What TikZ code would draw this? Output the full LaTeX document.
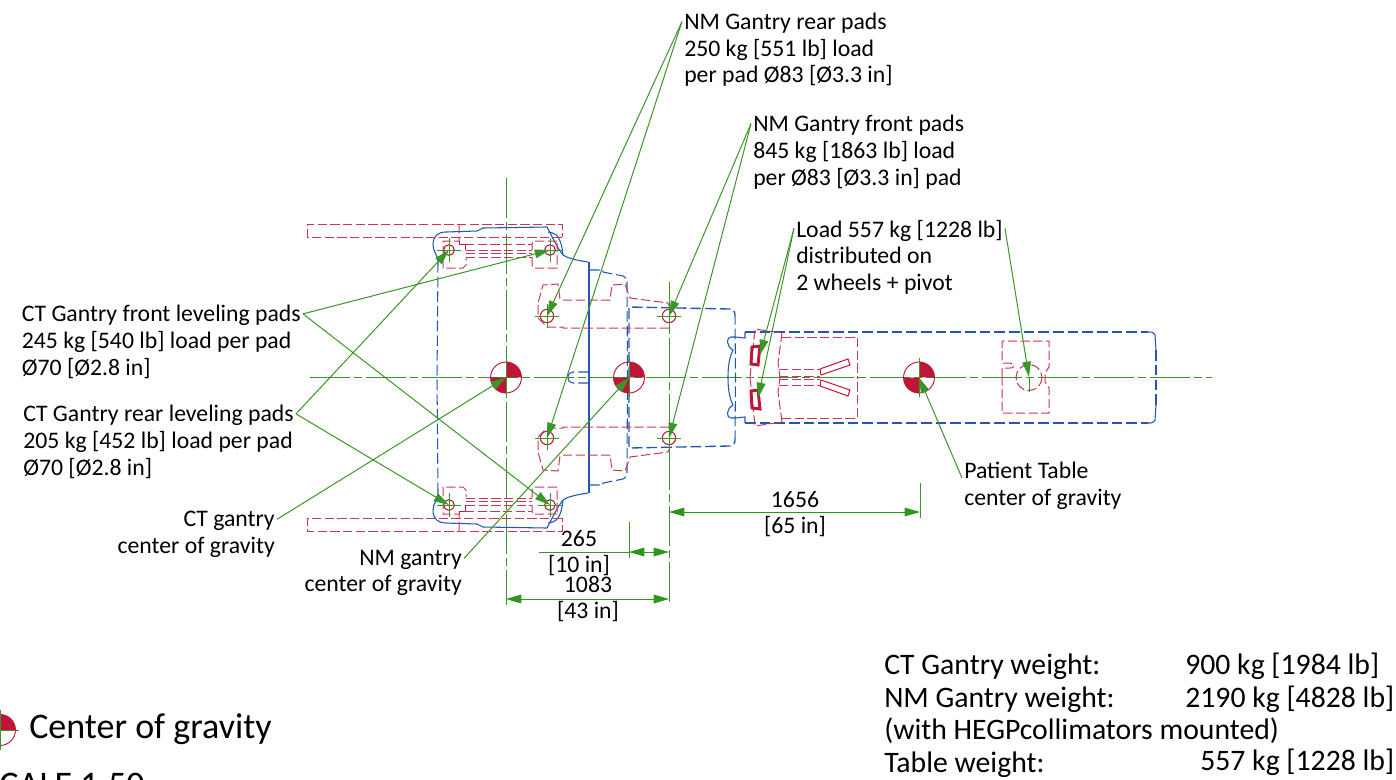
\documentclass[tikz,border=0pt]{standalone}
\usepackage{fontspec}
\setmainfont{Carlito}
\usepackage{xcolor}
\usetikzlibrary{arrows.meta,positioning,calc}
\definecolor{planblue}{RGB}{32,88,176}
\definecolor{planred}{RGB}{192,20,56}
\definecolor{plangreen}{RGB}{58,150,40}
\definecolor{tipgreen}{RGB}{44,150,30}
\newcommand{\cgmark}[3]{%
  \node[cgdisc] (#1) at (#2,#3) {};
  \fill[planred] (#1.center) -- (#1.north) arc[start angle=90,end angle=0,radius=11.6pt] -- cycle;
  \fill[planred] (#1.center) -- (#1.south) arc[start angle=270,end angle=180,radius=11.6pt] -- cycle;
  \draw[planred,line width=0.7pt] (#1.center) circle[radius=11.6pt];
  \draw[plangreen,line width=0.7pt] (#1.north) ++(0,3pt) -- ($(#1.south)+(0,-3pt)$);
}
\begin{document}
\begin{tikzpicture}[
    x=0.75pt, y=-0.75pt,
    >={Triangle[length=11.5pt,width=6.5pt]},
    bluedash/.style={planblue, line width=0.8pt, dash pattern=on 8pt off 3pt},
    bluesolid/.style={planblue, line width=0.8pt},
    reddash/.style={planred!85!white, line width=0.75pt, dash pattern=on 7pt off 2.5pt},
    redsolid/.style={planred, line width=0.75pt},
    wheel/.style={planred, line width=2.2pt},
    axisline/.style={plangreen, line width=0.75pt, dash pattern=on 30pt off 3pt on 6pt off 3pt},
    extline/.style={plangreen, line width=0.75pt},
    leader/.style={->, plangreen, line width=0.75pt},
    dimline/.style={<->, tipgreen, line width=0.75pt},
    padring/.style={circle, draw=planred, line width=0.8pt, inner sep=0pt, minimum size=#1},
    cgdisc/.style={circle, inner sep=0pt, minimum size=23.2pt},
    note/.style={font=\fontsize{17.8}{20}\selectfont, inner sep=1.5pt, align=left},
    noteright/.style={font=\fontsize{17.8}{20}\selectfont, inner sep=1.5pt, align=right},
    dimtext/.style={font=\fontsize{17.8}{19}\selectfont, inner sep=0pt, align=center},
    weightrow/.style={font=\fontsize{22.3}{24}\selectfont, inner sep=0pt, text height=15pt, text depth=5pt, anchor=west},
    legendtext/.style={font=\fontsize{27}{30}\selectfont, inner sep=0pt}
]
\useasboundingbox (0,0) rectangle (1396,779);
\clip (0,0) rectangle (1396,779);

% Center lines
\coordinate (axisw) at (310,377.5);
\coordinate (axise) at (1212,377.5);
\coordinate (ctaxist) at (506,178);
\coordinate (ctaxisb) at (506,605);
\coordinate (nmaxist) at (669,282);
\coordinate (nmaxisb) at (669,605);
\draw[axisline] (axisw) -- (axise);
\draw[axisline] (ctaxist) -- (ctaxisb);
\draw[axisline] (nmaxist) -- (nmaxisb);

% Both halves of the plan
\foreach \mirr/\flip in {0/1,755/-1}{
\begin{scope}[shift={(0,\mirr)},yscale=\flip]
  % CT gantry
  \draw[bluesolid] (438,262) .. controls (438,255) and (433,252) .. (433,245)
    .. controls (433,236) and (438,232) .. (446,232) -- (477,231) -- (483,228) -- (547,227)
    .. controls (552,236) and (556,246) .. (563,255) .. controls (567,258) and (575,260) .. (588,262);
  \draw[bluesolid] (548,232) .. controls (556,233) and (561,236) .. (563,255);
  \draw[bluedash] (438,262) -- (437,377.5);
  \draw[bluesolid,line width=1.1pt] (589,262) -- (589,377.5);
  \draw[bluedash] (589,372) -- (573,372) .. controls (570,372) and (568,374) .. (568,377.5);
  % NM gantry
  \draw[bluedash] (589,270) -- (603,270) -- (603,272) -- (623,276) .. controls (626,277) and (627,279) .. (627,282) -- (627.5,377.5);
  \draw[bluedash,line width=1pt] (629,377.5) -- (629,307) -- (730,309) .. controls (733,309) and (735,311) .. (735,314);
  \draw[bluedash] (735,314) -- (735.5,377.5);
  % Table
  \draw[bluesolid] (735,337) -- (731,337) .. controls (726,337) and (726,346) .. (733,350)
    .. controls (729,358) and (728,368) .. (728,377.5);
  \draw[bluesolid] (735,337) -- (745,338) -- (745,332);
  \draw[bluedash] (745,332) -- (1148,332);
  \draw[bluesolid] (1148,332) .. controls (1152,332) and (1154,332) .. (1155,335) -- (1156,350);
  \draw[bluedash] (1156,350) -- (1156,377.5);
  % Outriggers
  \draw[reddash] (562,237) -- (307,237) -- (307,224) -- (562,224) -- (562,237);
  % CT pads
  \draw[reddash] (459,224) -- (459,241) -- (443,241) -- (443,268) -- (463,268) -- (466,265) -- (466,258);
  \draw[redsolid] (459,241) -- (459,244) -- (465,244) -- (465,250);
  \draw[reddash] (557,241) -- (533,241) -- (532,244) -- (532,250);
  \draw[reddash] (532,257) -- (532,265) -- (534,268) -- (557,268) -- (557,241);
  \draw[reddash] (465,244) -- (532,244);
  \draw[reddash] (466,250) -- (532,250);
  \draw[reddash] (466,253.5) -- (532,253.5);
  \draw[reddash] (466,257) -- (532,257);
  % NM pads
  \draw[reddash] (669,328) -- (563,328) -- (563,327) -- (547,327) -- (538,318) -- (538,303)
    -- (543,285) -- (558,284) -- (560,299) -- (562,300) -- (610,300) -- (612,285) -- (625,284)
    -- (630,298) -- (668,303) -- (670,308);
  % Pivot and fork
  \draw[reddash] (750,377.5) -- (755,329) -- (782,333) -- (778,363) -- (780,377.5);
  \draw[reddash] (782,337) -- (857,337) -- (857,377.5);
  \draw[wheel] (752,347) -- (760,346) -- (758,365) -- (751,364) -- cycle;
  \draw[reddash] (779,369.5) -- (820,369.5);
  \draw[reddash] (779,376) -- (820,376);
  \draw[redsolid] (820,369) -- (820,375);
  \draw[redsolid] (820,369) -- (848,359) -- (850,365) -- (821,375);
\end{scope}}

% Table slot
\draw[reddash] (1002,377.5) -- (1002,368) -- (1010,368) .. controls (1015,369) and (1015,363) .. (1010,363) -- (1002,363) -- (1002,341) -- (1049,341) -- (1049,367) -- (1045,373) -- (1045,382) -- (1049,388) -- (1049,413) -- (1002,413) -- (1002,377.5);
\draw[reddash] (1029,377.5) circle[radius=13];
\coordinate (pivotb) at (1029,392);
\coordinate (pivott) at (1029,377);
\draw[extline] (pivotb) -- (pivott);

% Pads
\foreach \padname/\px/\py/\pr in {ctfl/449/250/8pt, ctfr/550/250/8pt, ctrl/449/505/8pt, ctrr/550/505/8pt,
    nmrl/547/316/10pt, nmrr/547/438/10pt, nmfl/669/316/10pt, nmfr/669/438/10pt}{
  \node[padring=\pr] (\padname) at (\px,\py) {};
  \draw[extline] ([xshift=-9pt]\padname.center) -- ([xshift=9pt]\padname.center);
  \draw[extline] ([yshift=-9pt]\padname.center) -- ([yshift=9pt]\padname.center);
}

% Centers of gravity
\cgmark{ctcg}{506}{377.5}
\cgmark{nmcg}{629}{377.5}
\cgmark{tablecg}{919}{377.5}

% Wheels and pivot
\coordinate (wheeltop) at (760,355);
\coordinate (wheelbot) at (758,398);

% Labels
\node[note, anchor=west] (nmrear) at (682,50) {NM Gantry rear pads\\250 kg [551 lb] load\\per pad Ø83 [Ø3.3 in]};
\node[note, anchor=west] (nmfront) at (751,152) {NM Gantry front pads\\845 kg [1863 lb] load\\per Ø83 [Ø3.3 in] pad};
\node[note, anchor=west] (loadnote) at (794,257) {Load 557 kg [1228 lb]\\distributed on\\2 wheels + pivot};
\node[note, anchor=east] (ctfront) at (303,342) {CT Gantry front leveling pads\\245 kg [540 lb] load per pad\\Ø70 [Ø2.8 in]};
\node[note, anchor=east] (ctrear) at (296,442) {CT Gantry rear leveling pads\\205 kg [452 lb] load per pad\\Ø70 [Ø2.8 in]};
\node[noteright, anchor=east] (ctcglabel) at (277,534) {CT gantry\\center of gravity};
\node[noteright, anchor=east] (nmcglabel) at (464,573) {NM gantry\\center of gravity};
\node[note, anchor=west] (tablecglabel) at (962,486) {Patient Table\\center of gravity};

% Leaders
\draw[leader] ([yshift=-8pt]nmrear.north west) -- (nmrl.center);
\draw[leader] ([yshift=-8pt]nmrear.north west) -- (nmrr.center);
\draw[leader] ([yshift=-8pt]nmfront.north west) -- (nmfl.center);
\draw[leader] ([yshift=-8pt]nmfront.north west) -- (nmfr.center);
\draw[leader] ([yshift=-8pt]loadnote.north west) -- (wheeltop);
\draw[leader] ([yshift=-8pt]loadnote.north west) -- (wheelbot);
\draw[leader] ([yshift=-8pt]loadnote.north east) -- (pivott);
\draw[leader] ([yshift=-8pt]ctfront.north east) -- (ctfr.center);
\draw[leader] ([yshift=-8pt]ctfront.north east) -- (ctrr.center);
\draw[leader] ([yshift=-8pt]ctrear.north east) -- (ctfl.center);
\draw[leader] ([yshift=-8pt]ctrear.north east) -- (ctrl.center);
\draw[leader] ([yshift=-8pt]ctcglabel.north east) -- (ctcg.center);
\draw[leader] ([yshift=-8pt]nmcglabel.north east) -- (nmcg.center);
\draw[leader] ([yshift=6pt]tablecglabel.west) -- (tablecg.center);

% Dimensions
\coordinate (dimtablel) at (669,512);
\coordinate (dimtabler) at (920,512);
\coordinate (exttablet) at (920,483);
\coordinate (exttableb) at (920,518);
\draw[extline] (exttablet) -- (exttableb);
\draw[dimline] (dimtablel) -- (dimtabler);
\node[dimtext] (dimtabletext) at (795,514) {1656\\[0pt][65 in]};

\coordinate (extnmt) at (629,522);
\coordinate (extnmb) at (629,558);
\coordinate (dimnmtail) at (539,552);
\coordinate (dimnml) at (629,552);
\coordinate (dimnmr) at (669,552);
\draw[extline] (extnmt) -- (extnmb);
\draw[extline] (dimnmtail) -- (dimnml);
\draw[dimline] (dimnml) -- (dimnmr);
\node[dimtext] (dimnmtext) at (579,553) {265\\[0pt][10 in]};

\coordinate (dimctl) at (506,599);
\coordinate (dimctr) at (669,599);
\draw[dimline] (dimctl) -- (dimctr);
\node[dimtext] (dimcttext) at (588,599) {1083\\[0pt][43 in]};

% Weights
\node[weightrow] (ctweight) at (884,668) {CT Gantry weight:};
\node[weightrow, below=4pt of ctweight.south west, anchor=north west] (nmweight) {NM Gantry weight:};
\node[weightrow, below=4pt of nmweight.south west, anchor=north west] (hegpnote) {(with HEGPcollimators mounted)};
\node[weightrow, below=4pt of hegpnote.south west, anchor=north west] (tableweight) {Table weight:};
\node[weightrow] (ctkg) at (1185,668) {900 kg [1984 lb]};
\node[weightrow, below=4pt of ctkg.south west, anchor=north west] (nmkg) {2190 kg [4828 lb]};
\node[weightrow] (tablekg) at (1200,764) {557 kg [1228 lb]};

% Legend
\cgmark{legendcg}{0}{730}
\coordinate (legendtick) at (19,730);
\draw[extline] (legendcg.center) -- (legendtick);
\node[legendtext, anchor=west] (legendtext) at (29,729) {Center of gravity};
\node[legendtext, anchor=east] (scaletext) at (145,785) {SCALE 1:50};
\end{tikzpicture}
\end{document}
